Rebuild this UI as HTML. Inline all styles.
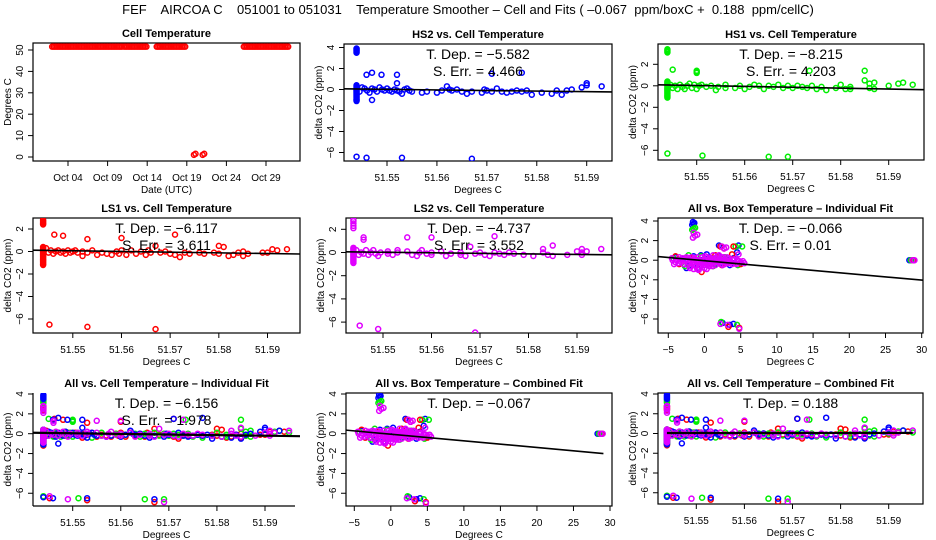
<!DOCTYPE html>
<html><head><meta charset="utf-8"><style>
html,body{margin:0;padding:0;background:#fff;}
svg{display:block;font-family:"Liberation Sans",Arial,sans-serif;}
</style></head><body>
<svg id="chart" width="936" height="540" viewBox="0 0 936 540">
<rect width="936" height="540" fill="#fff"/>
<text x="468" y="14" font-size="13" text-anchor="middle" style="white-space:pre">FEF    AIRCOA C    051001 to 051031    Temperature Smoother – Cell and Fits ( –0.067  ppm/boxC +  0.188  ppm/cellC)</text>
</svg>
<script>
// ---------- DATA ----------
const cellSegStart = [1.0, 10.1, 14.2, 25.2];
const cellSegEnd   = [9.9, 13.05, 17.9, 30.9];
const cellSegValue = [51.55, 51.55, 51.55, 51.55];
const cellLowDays  = [18.9, 20.0];
const cellLowVals  = [1.0, 1.0];
const dateTickDays = [3, 8, 13, 18, 23, 28];
const dateTickLabels = ["Oct 04","Oct 09","Oct 14","Oct 19","Oct 24","Oct 29"];
const cellYTicks = [0,10,20,30,40,50];

const clusterX = 51.5439;
const cellXTicks = [51.55, 51.56, 51.57, 51.58, 51.59];
const cellXTickLabels = ["51.55","51.56","51.57","51.58","51.59"];
const boxXTicks = [-5,0,5,10,15,20,25,30];

const hs2ClusterY = [-1.1,-1.0,-0.9,-0.8,-0.7,-0.6,-0.5,-0.4,-0.3,-0.2,-0.1,0.0,0.1,0.2,0.3,0.4,3.5,3.6,3.7,3.8,3.9];
const hs2Points = [[51.5439,-6.4],[51.5459,-6.5],[51.553,-6.5],[51.567,-6.6],
[51.5459,1.4],[51.547,1.6],[51.5489,1.4],[51.552,1.4],[51.552,0.6],[51.571,1.5],[51.577,1.6],[51.547,-1.0],
[51.5445,-0.2],[51.545,0.2],[51.5455,0.1],[51.546,-0.1],[51.5465,-0.3],[51.547,0.1],[51.5475,0.0],[51.548,-0.2],[51.5485,0.2],[51.549,0.0],[51.5495,-0.1],[51.550,0.1],[51.5505,-0.1],[51.551,-0.2],[51.5515,0.0],[51.552,-0.1],[51.5525,-0.2],[51.553,-0.4],[51.5535,0.0],[51.554,0.1],[51.5545,-0.1],[51.555,-0.2],[51.557,-0.3],[51.558,-0.2],[51.560,-0.3],[51.561,-0.1],[51.562,0.3],[51.5625,0.0],[51.563,-0.1],[51.564,0.0],[51.565,-0.2],[51.566,-0.4],[51.567,-0.2],[51.569,-0.3],[51.5695,0.0],[51.570,-0.1],[51.571,-0.2],[51.572,0.1],[51.573,-0.2],[51.574,-0.3],[51.575,-0.2],[51.576,-0.1],[51.577,-0.2],[51.578,-0.1],[51.579,-0.5],[51.581,-0.3],[51.583,-0.4],[51.584,-0.1],[51.585,-0.5],[51.586,-0.1],[51.587,0.0],[51.589,0.2],[51.590,0.6],[51.590,0.4],[51.593,0.3]];
const hs1ClusterY = [-1.1,-1.0,-0.9,-0.8,-0.7,-0.6,-0.5,-0.4,-0.3,-0.2,-0.1,0.0,0.1,0.2,0.3,0.4,3.1,3.2,3.3,3.4];
const hs1Points = [[51.5439,-6.3],[51.5512,-6.5],[51.565,-6.6],[51.569,-6.6],
[51.545,1.5],[51.550,1.2],[51.550,1.3],[51.550,1.4],[51.5735,1.4],[51.585,1.4],[51.585,0.5],[51.586,0.2],[51.587,0.3],
[51.5445,0.1],[51.545,-0.2],[51.5455,0.0],[51.546,-0.3],[51.5465,0.1],[51.547,-0.1],[51.5475,-0.3],[51.548,0.0],[51.5485,0.2],[51.549,-0.2],[51.5495,0.1],[51.550,-0.3],[51.5505,0.0],[51.551,0.1],[51.552,-0.1],[51.553,0.0],[51.554,-0.4],[51.5545,-0.1],[51.556,0.1],[51.556,-0.2],[51.558,-0.2],[51.559,0.0],[51.560,-0.3],[51.561,-0.1],[51.562,0.1],[51.563,0.0],[51.564,-0.3],[51.565,0.0],[51.566,-0.1],[51.567,0.1],[51.568,-0.2],[51.569,0.0],[51.570,-0.2],[51.571,0.0],[51.572,-0.1],[51.573,-0.2],[51.574,0.0],[51.575,-0.3],[51.576,-0.1],[51.577,-0.4],[51.579,-0.2],[51.580,0.1],[51.581,-0.3],[51.582,-0.1],[51.582,-0.3],[51.586,-0.2],[51.587,-0.3],[51.590,0.0],[51.592,0.2],[51.593,0.3],[51.595,0.1]];
const ls1ClusterY = [-1.2,-1.1,-1.0,-0.9,-0.8,-0.7,-0.6,-0.5,-0.4,-0.3,-0.2,-0.1,0.0,0.1,0.2,0.3,0.4,2.4,2.5,2.6,2.7,2.8];
const ls1Points = [[51.5452,-6.5],[51.553,-6.7],[51.567,-6.9],
[51.5462,1.5],[51.548,1.4],[51.553,1.1],[51.560,1.2],[51.571,1.5],[51.567,0.5],[51.580,0.5],[51.581,0.4],[51.572,-0.5],[51.585,-0.4],
[51.5445,0.3],[51.545,-0.1],[51.5455,0.1],[51.546,-0.2],[51.5465,0.0],[51.547,0.1],[51.5475,-0.1],[51.548,0.0],[51.5485,-0.2],[51.549,0.1],[51.5495,-0.1],[51.550,0.0],[51.5505,0.1],[51.551,-0.1],[51.552,0.0],[51.552,-0.4],[51.553,-0.1],[51.554,0.1],[51.555,-0.3],[51.556,-0.1],[51.557,-0.2],[51.558,-0.3],[51.559,0.0],[51.5595,-0.2],[51.560,0.1],[51.561,-0.3],[51.562,0.1],[51.563,-0.2],[51.564,0.0],[51.565,-0.3],[51.5655,0.1],[51.566,-0.1],[51.568,-0.1],[51.569,0.0],[51.570,-0.2],[51.571,-0.3],[51.573,-0.1],[51.574,-0.2],[51.576,-0.1],[51.577,-0.2],[51.579,-0.1],[51.580,-0.2],[51.582,-0.4],[51.583,-0.3],[51.584,-0.1],[51.585,0.0],[51.586,-0.2],[51.589,-0.1],[51.590,-0.1],[51.591,0.2],[51.592,0.1],[51.594,0.2]];
const ls2ClusterY = [-0.9,-0.8,-0.7,-0.6,-0.5,-0.4,-0.3,-0.2,-0.1,0.0,0.1,0.2,0.3,0.4,2.1,2.3,2.5,2.7,2.8];
const ls2Points = [[51.5452,-6.3],[51.549,-6.6],[51.569,-6.9],
[51.546,1.3],[51.546,1.1],[51.555,1.3],[51.560,1.3],[51.573,1.4],[51.568,0.5],[51.585,0.6],[51.583,0.3],[51.591,0.3],[51.595,0.3],
[51.5445,0.2],[51.545,-0.2],[51.5455,0.0],[51.546,-0.1],[51.5465,0.2],[51.547,-0.2],[51.5475,0.0],[51.548,0.2],[51.5485,-0.1],[51.549,-0.3],[51.5495,0.0],[51.551,-0.1],[51.551,0.1],[51.552,-0.2],[51.553,0.2],[51.553,0.0],[51.555,0.1],[51.556,-0.2],[51.557,-0.3],[51.5575,0.0],[51.558,0.2],[51.559,-0.1],[51.560,0.0],[51.560,-0.2],[51.562,0.1],[51.563,-0.3],[51.564,-0.1],[51.566,-0.2],[51.566,0.0],[51.567,-0.3],[51.569,-0.1],[51.570,0.0],[51.571,-0.2],[51.572,-0.3],[51.573,0.0],[51.574,-0.1],[51.575,-0.2],[51.576,0.0],[51.577,-0.1],[51.579,-0.2],[51.581,-0.3],[51.583,0.0],[51.584,-0.2],[51.585,-0.3],[51.588,-0.2],[51.590,0.1],[51.591,0.0],[51.591,-0.2],[51.592,0.1]];

const fitSlopes = {hs2:-5.582, hs1:-8.215, ls1:-6.117, ls2:-4.737, allCell:-6.156, combCell:0.188, allBox:-0.066, combBox:-0.067};
const fitIntercepts = {hs2:0.05, hs1:0.08, ls1:0.1, ls2:0.05, allCell:0.08, combCell:0.05, allBox:-0.05, combBox:-0.05};
const annT = {hs2:"-5.582", hs1:"-8.215", ls1:"-6.117", ls2:"-4.737", allCell:"-6.156", allBox:"-0.066", combBox:"-0.067", combCell:"0.188"};
const annS = {hs2:"4.466", hs1:"4.203", ls1:"3.611", ls2:"3.552", allCell:"1.978", allBox:"0.01"};

const boxBlue = [[-1.5,3.7],[-1.6,3.9],[-1.4,3.8],[-1.7,3.6],[2.0,1.5],[4.7,1.5],[2.5,-6.4],[3.5,-6.6],[4.0,-6.5],[28.3,0.0],
[-4.0,0.3],[-3.0,0.1],[-2.0,-0.5],[-1.5,0.4],[-1.0,-0.8],[-0.5,0.5],[0.0,-0.2],[0.3,0.6],[1.0,0.2],[1.5,-0.4],[2.0,0.4],[2.5,-0.3],[3.0,0.1],[3.5,-0.5],[4.0,0.2],[4.5,0.8],[5.0,-0.3],[-2.5,-0.8]];
const boxGreen = [[-1.5,3.2],[-1.3,3.3],[-1.7,3.1],[5.2,1.4],[4.3,1.4],[-2.7,-0.6],[2.3,-6.3],[4.5,-6.6],[28.5,0.0],[28.6,0.0],
[-4.3,0.2],[-2.2,0.5],[-0.5,0.4],[1.2,-0.6],[2.8,0.3],[4.6,-0.5],[0.7,0.1],[3.3,-0.2]];
const boxRed = [[2.2,1.4],[4.0,1.4],[3.8,0.6],[-0.4,-1.2],[-3.5,-0.4],[3.3,-6.8],[4.8,-6.9],[28.9,0.0],[5.0,-0.4],[2.7,1.2],
[-4.0,0.4],[-1.8,0.2],[0.5,-0.3],[1.5,0.5],[3.0,-0.1],[2.4,-0.5],[-1.0,0.0]];
const boxMag = [[-1.6,2.3],[-1.3,2.5],[-1.0,2.6],[-1.5,2.8],[2.7,1.2],[3.0,1.3],[2.4,1.4],[4.7,0.6],[2.2,-6.5],[3.2,-6.6],[4.8,-7.0],[29.0,0.0],[28.7,0.0],
[-4.5,0.2],[-4.2,-0.4],[-3.8,0.0],[-3.5,0.3],[-3.2,-0.2],[-3.0,0.2],[-2.7,-0.1],[-2.5,0.3],[-2.3,-0.5],[-2.0,0.0],[-2.0,-0.8],[-1.8,0.3],[-1.6,-0.3],[-1.5,-0.9],[-1.3,0.1],[-1.2,-0.6],[-1.0,0.3],[-0.9,-0.3],[-0.8,-1.0],[-0.6,0.0],[-0.5,-0.6],[-0.3,0.3],[-0.2,-0.3],[0.0,-0.8],[0.0,0.1],[0.2,-0.5],[0.4,0.3],[0.5,-0.2],[0.7,-0.6],[0.9,0.2],[1.0,-0.3],[1.2,0.5],[1.3,-0.1],[1.5,-0.5],[1.7,0.2],[1.9,-0.2],[2.0,0.5],[2.2,-0.4],[2.4,0.0],[2.6,0.3],[2.8,-0.4],[3.0,0.0],[3.2,-0.3],[3.4,0.2],[3.6,-0.2],[3.9,0.0],[4.2,-0.3],[4.5,0.0],[5.0,-0.2],[5.5,-0.3],[-1.0,-0.9],[0.3,-0.9],
[-4.4,0.0],[-4.0,-0.2],[-3.6,-0.3],[-3.3,0.1],[-2.9,-0.4],[-2.6,0.1],[-2.2,0.2],[-2.1,-0.3],[-1.9,-0.6],[-1.7,0.0],[-1.4,-0.5],[-1.4,0.2],[-1.1,-0.2],[-0.9,0.0],[-0.7,-0.5],[-0.7,-0.8],[-0.4,-0.1],[-0.1,-0.5],[0.1,0.4],[0.3,-0.3],[0.6,0.1],[0.8,-0.4],[1.1,0.0],[1.1,-0.6],[1.4,0.2],[1.6,-0.2],[1.8,0.4],[2.1,-0.1],[2.3,0.3],[2.5,-0.5],[2.7,0.1],[2.9,-0.2],[3.1,0.3],[3.3,-0.1],[3.5,0.0],[3.8,-0.4],[4.1,0.1],[4.4,-0.4],[4.8,-0.1],[5.3,-0.1]];

// ---------- RENDER ----------
const NS = "http://www.w3.org/2000/svg";
const svg = document.getElementById('chart');
function mk(tag, attrs, parent){
  const e = document.createElementNS(NS, tag);
  for (const k in attrs) e.setAttribute(k, attrs[k]);
  (parent||svg).appendChild(e);
  return e;
}
function lin(v1,p1,v2,p2){ const f = v => p1 + (v - v1)*(p2 - p1)/(v2 - v1); return f; }

const COL = {hs2:"#0000ff", hs1:"#00ee00", ls1:"#ff0000", ls2:"#e000ff"};

function drawPanel(cfg){
  const g = mk('g', {});
  
  
  const [x0,y0,x1,y1] = cfg.box;
  const xs = lin(...cfg.xs), ys = lin(...cfg.ys);
  cfg.xsF = xs; cfg.ysF = ys;
  const t = mk('text', {x:(x0+x1)/2, y:y0-6, 'font-size':11, 'font-weight':'bold', 'text-anchor':'middle'}, g);
  t.textContent = cfg.title;
  
  
  if (cfg.frame) {
    const r = mk('rect', {x:x0, y:y0, width:x1-x0, height:y1-y0, fill:'none', stroke:'#000', 'stroke-width':1.2}, g);
    
    
  } else {
    const a1 = mk('line', {x1:x0, y1:y0, x2:x0, y2:y1, stroke:'#000', 'stroke-width':1.2}, g);
    
    
    const a2 = mk('line', {x1:x0, y1:y1, x2:x1-5, y2:y1, stroke:'#000', 'stroke-width':1.2}, g);
    
    
  }
  const cid = 'clip-' + cfg.name;
  const cp = mk('clipPath', {id:cid}, g);
  mk('rect', {x:x0, y:y0, width:x1-x0, height:y1-y0}, cp);
  const plot = mk('g', {'clip-path':'url(#'+cid+')'}, g);
  
  
  cfg.plot = plot;
  cfg.xticks.forEach((v,i) => {
    const px = xs(v);
    const tk = mk('line', {x1:px, y1:y1, x2:px, y2:y1+5, stroke:'#000', 'stroke-width':1}, g);
    
    
    const lb = mk('text', {x:px, y:y1+20, 'font-size':10, 'text-anchor':'middle'}, g);
    lb.textContent = cfg.xlabels[i];
    
    
  });
  cfg.yticks.forEach(v => {
    const py = ys(v);
    const tk = mk('line', {x1:x0, y1:py, x2:x0-5, y2:py, stroke:'#000', 'stroke-width':1}, g);
    
    
    const lb = mk('text', {x:x0-10, y:py, 'font-size':10, 'text-anchor':'middle', transform:`rotate(-90 ${x0-10} ${py})`}, g);
    lb.textContent = String(v).replace('-', '\u2212');
    
    
  });
  const xt = mk('text', {x:(x0+x1)/2, y:y1+32, 'font-size':10, 'text-anchor':'middle'}, g);
  xt.textContent = cfg.xtitle;
  
  
  const ym = (y0+y1)/2;
  const yt = mk('text', {x:x0-22, y:ym, 'font-size':10, 'text-anchor':'middle', transform:`rotate(-90 ${x0-22} ${ym})`}, g);
  yt.textContent = cfg.ytitle;
  
  
  cfg.g = g;
  return cfg;
}
function pt(cfg, x, y, color, name){
  const c = mk('circle', {cx:cfg.xsF(x), cy:cfg.ysF(y), r:2.5, fill:'none', stroke:color, 'stroke-width':1.5}, cfg.plot);
  
  
}
function sensor(cfg, key){
  const cy = {hs2:hs2ClusterY, hs1:hs1ClusterY, ls1:ls1ClusterY, ls2:ls2ClusterY}[key];
  const pts = {hs2:hs2Points, hs1:hs1Points, ls1:ls1Points, ls2:ls2Points}[key];
  cy.forEach(y => pt(cfg, clusterX, y, COL[key], key+'-point'));
  pts.forEach(p => pt(cfg, p[0], p[1], COL[key], key+'-point'));
}
function fitLine(cfg, key, xa, xb, x0v, w){
  const s = fitSlopes[key], b = fitIntercepts[key];
  const f = x => b + s*(x - x0v);
  const l = mk('line', {x1:cfg.xsF(xa), y1:cfg.ysF(f(xa)), x2:cfg.xsF(xb), y2:cfg.ysF(f(xb)), stroke:'#000', 'stroke-width':w||1.6}, cfg.plot);
  
  
}
function annot(cfg, key){
  const [x0,y0,x1] = cfg.box;
  const cx = (x0+x1)/2;
  const a = mk('text', {x:cx, y:y0+15, 'font-size':14, 'text-anchor':'middle'}, cfg.g);
  a.textContent = 'T. Dep. =  ' + annT[key].replace('-', '\u2212');
  
  
  if (annS[key]) {
    const b = mk('text', {x:cx, y:y0+32, 'font-size':14, 'text-anchor':'middle'}, cfg.g);
    b.textContent = 'S. Err. =  ' + annS[key];
    
    
  }
}
const yT4 = [4,2,0,-2,-4,-6], yT2 = [2,0,-2,-4,-6];
const dco2 = 'delta CO2 (ppm)';
const boxLabels = boxXTicks.map(String).map(s=>s.replace('-','\u2212'));

const p11 = drawPanel({name:'cell-temperature-panel', box:[33,43,300,161], xs:[3,68,28,266], ys:[0,157,50,50],
  xticks:dateTickDays, xlabels:dateTickLabels, yticks:cellYTicks, title:'Cell Temperature', xtitle:'Date (UTC)', ytitle:'Degrees C', frame:true});
cellSegStart.forEach((s,i) => {
  for (let d = s; d <= cellSegEnd[i] + 1e-9; d += 0.2) {
    pt(p11, d, cellSegValue[i], '#ff0000', 'cell-temp-point');
  }
});
cellLowDays.forEach((d,i) => { pt(p11, d, cellLowVals[i], '#ff0000', 'cell-temp-point'); pt(p11, d+0.2, cellLowVals[i]+0.5, '#ff0000', 'cell-temp-point'); });

const p12 = drawPanel({name:'hs2-vs-cell-panel', box:[344,44,612,161], xs:[51.55,387,51.59,586.7], ys:[0,89.5,4,47.5],
  xticks:cellXTicks, xlabels:cellXTickLabels, yticks:yT4, title:'HS2 vs. Cell Temperature', xtitle:'Degrees C', ytitle:dco2, frame:true});
sensor(p12,'hs2'); fitLine(p12,'hs2',51.540,51.600,clusterX); annot(p12,'hs2');
const p13 = drawPanel({name:'hs1-vs-cell-panel', box:[658,44,924,160], xs:[51.55,696.7,51.59,888.7], ys:[0,85.8,2,64.3],
  xticks:cellXTicks, xlabels:cellXTickLabels, yticks:yT2, title:'HS1 vs. Cell Temperature', xtitle:'Degrees C', ytitle:dco2, frame:true});
sensor(p13,'hs1'); fitLine(p13,'hs1',51.540,51.600,clusterX); annot(p13,'hs1');

const p21 = drawPanel({name:'ls1-vs-cell-panel', box:[33,218,300,333], xs:[51.55,72.8,51.59,267.5], ys:[0,251.5,2,229],
  xticks:cellXTicks, xlabels:cellXTickLabels, yticks:yT2, title:'LS1 vs. Cell Temperature', xtitle:'Degrees C', ytitle:dco2, frame:true});
sensor(p21,'ls1'); fitLine(p21,'ls1',51.540,51.600,clusterX); annot(p21,'ls1');
const p22 = drawPanel({name:'ls2-vs-cell-panel', box:[346,218,612,333], xs:[51.55,383,51.59,577], ys:[0,252.5,2,229.3],
  xticks:cellXTicks, xlabels:cellXTickLabels, yticks:yT2, title:'LS2 vs. Cell Temperature', xtitle:'Degrees C', ytitle:dco2, frame:true});
sensor(p22,'ls2'); fitLine(p22,'ls2',51.540,51.600,clusterX); annot(p22,'ls2');
const p23 = drawPanel({name:'all-vs-box-individual-panel', box:[658,218,923,333], xs:[-5,668.3,30,921.7], ys:[0,260.2,4,221],
  xticks:boxXTicks, xlabels:boxLabels, yticks:yT4, title:'All vs. Box Temperature – Individual Fit', xtitle:'Degrees C', ytitle:dco2, frame:true});
boxBlue.forEach(p => pt(p23,p[0],p[1],COL.hs2,'hs2-point'));
boxGreen.forEach(p => pt(p23,p[0],p[1],COL.hs1,'hs1-point'));
boxRed.forEach(p => pt(p23,p[0],p[1],COL.ls1,'ls1-point'));
boxMag.forEach(p => pt(p23,p[0],p[1],COL.ls2,'ls2-point'));
fitLine(p23,'allBox',-7,31,0); annot(p23,'allBox');

const p31 = drawPanel({name:'all-vs-cell-individual-panel', box:[33,393,300,506], xs:[51.55,72.7,51.59,265], ys:[0,433.7,4,394],
  xticks:cellXTicks, xlabels:cellXTickLabels, yticks:yT4, title:'All vs. Cell Temperature – Individual Fit', xtitle:'Degrees C', ytitle:dco2, frame:false});
['ls1','hs1','hs2','ls2'].forEach(k => sensor(p31,k)); fitLine(p31,'allCell',51.540,51.600,clusterX,2.2); annot(p31,'allCell');
const p32 = drawPanel({name:'all-vs-box-combined-panel', box:[346,393,612,506], xs:[-5,354.3,30,610], ys:[0,433.7,4,394],
  xticks:boxXTicks, xlabels:boxLabels, yticks:yT4, title:'All vs. Box Temperature – Combined Fit', xtitle:'Degrees C', ytitle:dco2, frame:true});
boxBlue.forEach(p => pt(p32,p[0],p[1],COL.hs2,'hs2-point'));
boxGreen.forEach(p => pt(p32,p[0],p[1],COL.hs1,'hs1-point'));
boxRed.forEach(p => pt(p32,p[0],p[1],COL.ls1,'ls1-point'));
boxMag.forEach(p => pt(p32,p[0],p[1],COL.ls2,'ls2-point'));
fitLine(p32,'combBox',-6.3,29.1,0); annot(p32,'combBox');
const p33 = drawPanel({name:'all-vs-cell-combined-panel', box:[658,393,923,504], xs:[51.55,696.3,51.59,888.7], ys:[0,433.5,4,394],
  xticks:cellXTicks, xlabels:cellXTickLabels, yticks:yT4, title:'All vs. Cell Temperature – Combined Fit', xtitle:'Degrees C', ytitle:dco2, frame:true});
['ls1','hs1','hs2','ls2'].forEach(k => sensor(p33,k)); fitLine(p33,'combCell',51.5439,51.595,clusterX,2.2); annot(p33,'combCell');
</script>
</body></html>
